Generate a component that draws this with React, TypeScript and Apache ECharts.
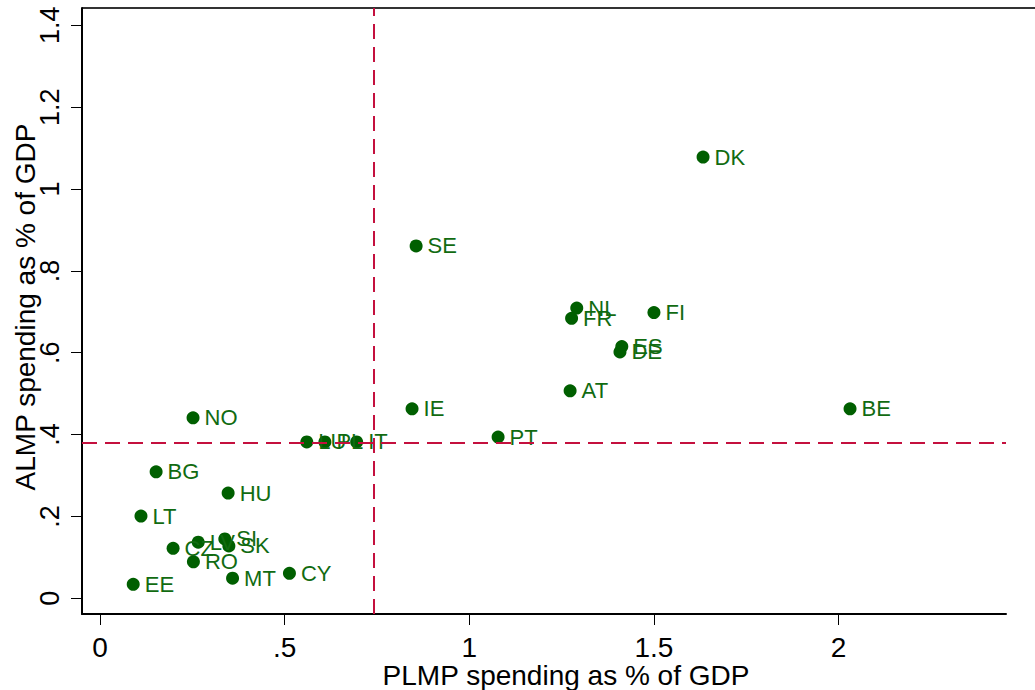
import React, { useEffect, useRef } from "react";
import * as echarts from "echarts";

const countries = ["DK","SE","NL","FR","FI","ES","DE","AT","BE","IE","PT","NO","LU","PL","IT","BG","HU","LT","CZ","LV","SI","SK","RO","EE","MT","CY"];
const plmp = [1.633,0.856,1.291,1.277,1.500,1.413,1.408,1.273,2.031,0.845,1.078,0.252,0.560,0.609,0.695,0.152,0.347,0.111,0.198,0.266,0.338,0.349,0.253,0.090,0.359,0.513];
const almp = [1.078,0.861,0.709,0.684,0.698,0.615,0.602,0.507,0.463,0.463,0.394,0.441,0.382,0.382,0.382,0.309,0.257,0.201,0.122,0.137,0.145,0.128,0.089,0.034,0.049,0.061];
const xTicks = [0, 0.5, 1, 1.5, 2];
const yTicks = [0, 0.2, 0.4, 0.6, 0.8, 1, 1.2, 1.4];
const meanPlmp = 0.739;
const meanAlmp = 0.384;
const xTitle = "PLMP spending as % of GDP";
const yTitle = "ALMP spending as % of GDP";

const fmt = (v: number) => {
  if (Math.abs(v) < 1e-9) return "0";
  const s = String(+v.toFixed(1));
  return s.replace(/^0\./, ".");
};

export default function App() {
  const ref = useRef<HTMLDivElement>(null);
  useEffect(() => {
    document.body.style.margin = "0";
    const chart = echarts.init(ref.current!, null, { renderer: "svg" });
    const font = "'Liberation Sans', Arial, sans-serif";
    chart.setOption({
      animation: false,
      backgroundColor: "#fff",
      textStyle: { fontFamily: font },
      grid: { left: 82, right: 29, top: 8, bottom: 76 },
      xAxis: {
        type: "value",
        min: -0.0487,
        max: 2.4533,
        splitLine: { show: false },
        axisLine: { onZero: false, lineStyle: { color: "#000", width: 2 } },
        axisTick: { customValues: xTicks, length: 11, lineStyle: { color: "#000", width: 1 } },
        axisLabel: { customValues: xTicks, formatter: fmt, fontSize: 28, color: "#000", margin: 19, fontFamily: font },
      },
      yAxis: {
        type: "value",
        min: -0.0384,
        max: 1.4423,
        splitLine: { show: false },
        axisLine: { onZero: false, lineStyle: { color: "#000", width: 2 } },
        axisTick: { customValues: yTicks, length: 11, lineStyle: { color: "#000", width: 1 } },
        axisLabel: { customValues: yTicks, formatter: fmt, fontSize: 27, color: "#000", margin: 19, rotate: 90, fontFamily: font },
      },
      graphic: [
        { type: "line", shape: { x1: 82, y1: 8, x2: 1035, y2: 8 }, style: { stroke: "#333", lineWidth: 2 } },
        { type: "text", x: 566, y: 675, style: { text: xTitle, fontSize: 28, fill: "#000", font: `28px ${font}`, textAlign: "center", textVerticalAlign: "middle" } },
        { type: "text", x: 25, y: 307, rotation: Math.PI / 2, style: { text: yTitle, fontSize: 28, fill: "#000", font: `28px ${font}`, textAlign: "center", textVerticalAlign: "middle" } },
      ],
      series: [
        {
          type: "scatter",
          symbolSize: 13,
          itemStyle: { color: "#005f00", opacity: 1 },
          data: countries.map((c, i) => ({ name: c, value: [plmp[i], almp[i]] })),
          label: {
            show: true,
            position: "right",
            distance: 5,
            formatter: "{b}",
            fontSize: 22,
            color: "#116b11",
            fontFamily: font,
          },
          markLine: {
            silent: true,
            symbol: "none",
            label: { show: false },
            lineStyle: { color: "#c4103e", width: 2, type: [15, 8] },
            data: [{ xAxis: meanPlmp }, { yAxis: meanAlmp }],
          },
          z: 3,
        },
      ],
    });
    return () => chart.dispose();
  }, []);
  return <div ref={ref} style={{ position: "absolute", left: 0, top: 0, width: 1035, height: 690 }} />;
}
